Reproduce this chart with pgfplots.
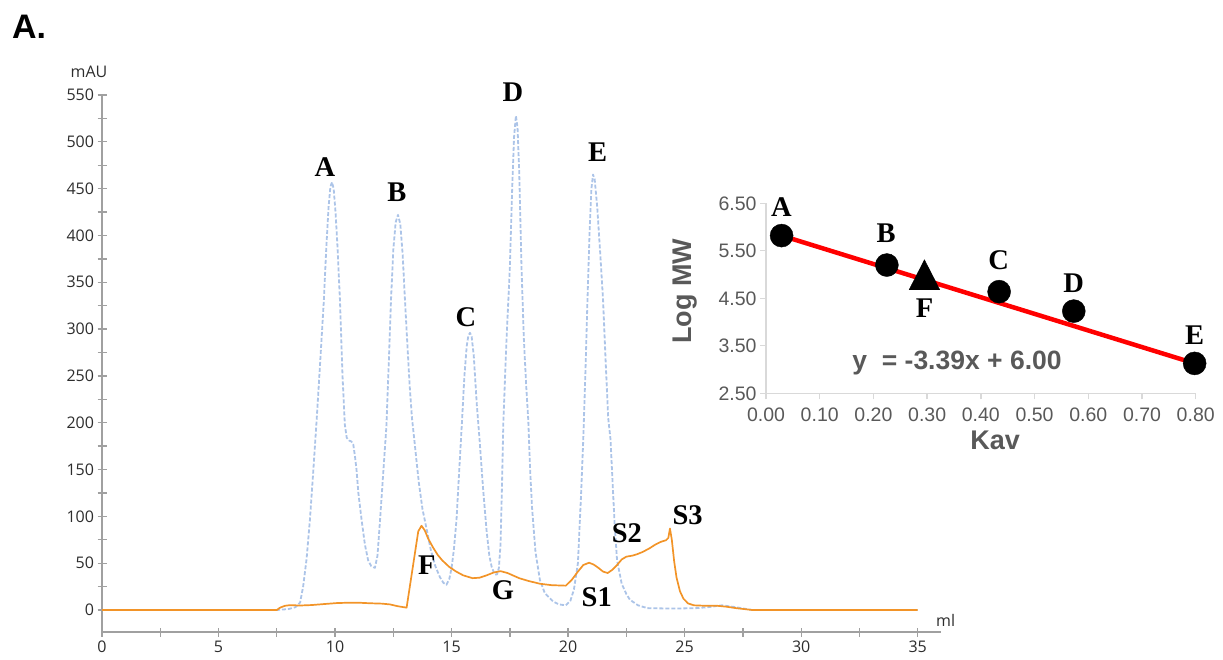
\documentclass[border=0pt]{standalone}
\usepackage{fontspec}
\setmainfont{Liberation Serif}
\newfontfamily\osans{Open Sans}
\newfontfamily\arial{Liberation Sans}
\usepackage{pgfplots}
\pgfplotsset{compat=1.18}
\definecolor{chromblue}{RGB}{172,196,232}
\definecolor{chromorange}{RGB}{242,148,40}
\definecolor{axgray}{RGB}{160,160,160}
\definecolor{ticktext}{RGB}{45,45,45}
\definecolor{insetgray}{RGB}{217,217,217}
\definecolor{insettext}{RGB}{89,89,89}
\newcommand{\lbl}{\bfseries\fontsize{28.5bp}{30bp}\selectfont}
\begin{document}
\begin{tikzpicture}
\useasboundingbox (0,0) rectangle (1223bp,-660bp);
\node[anchor=north west, inner sep=0pt, font=\arial\bfseries\fontsize{34bp}{36bp}\selectfont] at (12bp,-15bp) {A.};
\begin{axis}[
  at={(102bp,-632bp)}, anchor=south west,
  scale only axis, width=839bp, height=537bp,
  xmin=0, xmax=36, ymin=-23.5, ymax=550,
  axis x line=bottom, axis y line=left,
  x axis line style={-}, y axis line style={-},
  axis line style={axgray, line width=1.6bp},
  xtick={0,5,10,15,20,25,30,35}, minor xtick={2.5,7.5,12.5,17.5,22.5,27.5,32.5},
  ytick={0,50,...,550}, minor ytick={25,75,...,525},
  tick align=center, major tick length=9bp, minor tick length=9bp,
  every tick/.style={axgray, line width=1.3bp},
  tick label style={font=\osans\fontsize{16bp}{18bp}\selectfont, text=ticktext},
  xticklabel style={yshift=-1bp},
  /pgf/number format/assume math mode=true,
  clip=false,
]
\addplot[chromblue, line width=1.8bp, dash pattern=on 4bp off 2bp, line join=round] coordinates {
(0,0) (7.5,0) (8.0,1) (8.3,3) (8.5,8) (8.63,25) (8.78,55) (8.92,96) (9.07,150) (9.21,203) (9.35,260) (9.52,331) (9.62,385) (9.72,430) (9.8,452) (9.87,457) (9.94,450) (10.02,425) (10.1,390) (10.21,331) (10.32,250) (10.42,198) (10.5,184) (10.6,181) (10.7,180) (10.78,177) (10.85,165) (10.92,150) (11.0,125) (11.14,96) (11.28,70) (11.42,53) (11.55,47) (11.71,45) (11.82,58) (11.93,96) (12.05,140) (12.2,195) (12.3,260) (12.4,331) (12.5,385) (12.6,414) (12.7,422) (12.8,412) (12.9,380) (13.0,331) (13.1,285) (13.2,240) (13.3,205) (13.4,182) (13.5,158) (13.6,135) (13.75,108) (13.94,85) (14.1,65) (14.3,47) (14.5,35) (14.65,29) (14.78,27) (14.9,33) (15.0,45) (15.1,65) (15.21,96) (15.33,150) (15.45,203) (15.55,250) (15.65,282) (15.72,293) (15.79,296) (15.86,292) (15.95,272) (16.08,220) (16.2,182) (16.35,130) (16.5,85) (16.62,58) (16.72,46) (16.85,38) (16.95,38) (17.03,45) (17.1,70) (17.16,130) (17.22,200) (17.35,285) (17.5,366) (17.6,450) (17.68,505) (17.76,528) (17.83,515) (17.9,470) (18.0,366) (18.1,290) (18.2,240) (18.29,203) (18.37,150) (18.45,110) (18.6,62) (18.79,32) (19.0,18) (19.36,9) (19.6,6) (19.9,5) (20.1,10) (20.25,22) (20.42,50) (20.55,120) (20.65,182) (20.75,260) (20.83,331) (20.93,410) (21.0,450) (21.07,465) (21.14,460) (21.25,430) (21.38,380) (21.5,331) (21.62,260) (21.72,205) (21.82,182) (21.92,130) (22.0,90) (22.1,53) (22.3,28) (22.5,17) (22.65,11) (23.0,5) (23.4,2) (24.5,1.5) (25.5,2) (26.0,3) (26.6,5) (27.2,3) (27.9,0) (35,0)
};
\addplot[chromorange, line width=1.7bp, line join=round] coordinates {
(0,0) (7.5,0) (7.64,2.5) (7.85,4.5) (8.07,5.2) (8.5,4.8) (9.0,5.3) (9.5,6.3) (10.07,7.4) (10.6,7.8) (11.0,7.8) (11.5,7.2) (12.0,6.8) (12.35,6) (12.7,4) (13.07,2.5) (13.3,40) (13.57,84) (13.71,90) (13.85,85) (14.0,76) (14.2,67) (14.4,59) (14.6,53) (14.9,46) (15.2,41) (15.5,37) (15.9,34) (16.2,34.5) (16.5,37) (16.8,40) (17.1,41.5) (17.4,39.5) (17.9,34) (18.3,31) (18.8,28) (19.3,26.5) (19.9,26) (20.15,32) (20.42,41) (20.65,48) (20.9,50.5) (21.1,48.5) (21.3,45) (21.5,41) (21.7,39.5) (21.9,43) (22.1,48) (22.3,54) (22.5,57) (22.75,58) (22.95,59.5) (23.2,62) (23.5,66) (23.75,70) (24.0,73) (24.2,74.5) (24.3,77) (24.37,87) (24.45,75) (24.55,52) (24.65,35) (24.8,20) (24.95,12) (25.15,7) (25.4,5) (25.9,4.5) (26.4,4.5) (26.8,3.5) (27.2,2) (27.9,0) (35,0)
};
\node[font=\lbl] at (axis cs:9.56,473) {A};
\node[font=\lbl] at (axis cs:12.65,446) {B};
\node[font=\lbl] at (axis cs:15.61,313) {C};
\node[font=\lbl] at (axis cs:17.63,553) {D};
\node[font=\lbl] at (axis cs:21.27,489) {E};
\node[font=\lbl] at (axis cs:13.94,48) {F};
\node[font=\lbl] at (axis cs:17.2,21) {G};
\node[font=\lbl] at (axis cs:21.23,14) {S1};
\node[font=\lbl] at (axis cs:22.52,82) {S2};
\node[font=\lbl] at (axis cs:25.13,101) {S3};
\node[font=\osans\fontsize{16bp}{18bp}\selectfont, text=ticktext] at (axis cs:-0.56,574.5) {mAU};
\node[font=\osans\fontsize{16bp}{18bp}\selectfont, text=ticktext] at (axis cs:36.2,-10.7) {ml};
\end{axis}
\begin{axis}[
  at={(766bp,-393.3bp)}, anchor=south west,
  scale only axis, width=429.7bp, height=190bp,
  xmin=0, xmax=0.8, ymin=2.5, ymax=6.5,
  axis x line=bottom, axis y line=left,
  x axis line style={-}, y axis line style={-},
  axis line style={insetgray, line width=1.6bp},
  xtick={0,0.1,0.2,0.3,0.4,0.5,0.6,0.7,0.8},
  xticklabels={0.00,0.10,0.20,0.30,0.40,0.50,0.60,0.70,0.80},
  ytick={2.5,3.5,4.5,5.5,6.5},
  yticklabels={2.50,3.50,4.50,5.50,6.50},
  tick align=outside, major tick length=6bp,
  every tick/.style={insetgray, line width=1.3bp},
  tick label style={font=\arial\fontsize{19.5bp}{21bp}\selectfont, text=insettext},
  xticklabel style={yshift=-5bp},
  clip=false,
]
\addplot[red, line width=4.5bp] coordinates {(0.029,5.82) (0.798,3.13)};
\addplot[only marks, mark=*, mark size=11.5bp, black] coordinates {(0.029,5.82) (0.225,5.20) (0.434,4.64) (0.573,4.23) (0.798,3.13)};
\addplot[only marks, mark=triangle*, mark size=17.7bp, mark options={yscale=1.13}, black] coordinates {(0.295,4.89)};
\node[font=\lbl] at (axis cs:0.0287,6.43) {A};
\node[font=\lbl] at (axis cs:0.2235,5.87) {B};
\node[font=\lbl] at (axis cs:0.433,5.31) {C};
\node[font=\lbl] at (axis cs:0.573,4.82) {D};
\node[font=\lbl] at (axis cs:0.798,3.73) {E};
\node[font=\lbl] at (axis cs:0.295,4.29) {F};
\node[font=\arial\bfseries\fontsize{26.5bp}{28bp}\selectfont, text=insettext] at (axis cs:0.3556,3.14) {y\ \ = -3.39x + 6.00};
\node[font=\arial\bfseries\fontsize{27bp}{29bp}\selectfont, text=insettext] at (axis cs:0.4264,1.517) {Kav};
\node[font=\arial\bfseries\fontsize{27bp}{29bp}\selectfont, text=insettext, rotate=90] at (axis cs:-0.1508,4.65) {Log MW};
\end{axis}
\end{tikzpicture}
\end{document}
